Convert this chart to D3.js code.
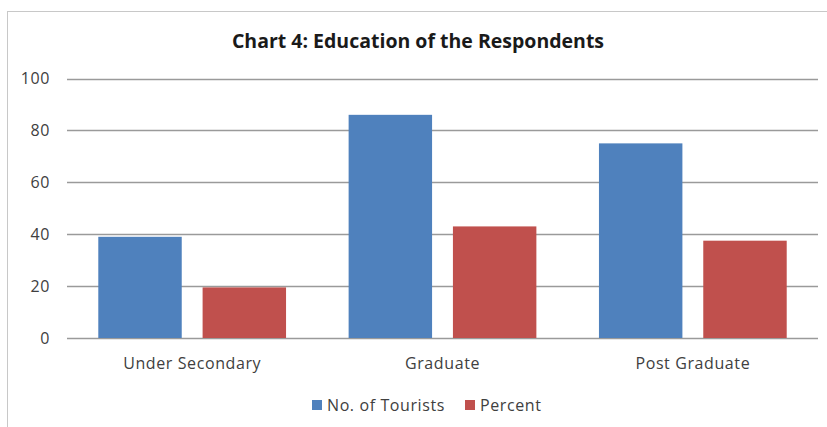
<!DOCTYPE html>
<html>
<head>
<meta charset="utf-8">
<script src="https://cdn.jsdelivr.net/npm/d3@7"></script>
<style>
  html, body { margin: 0; padding: 0; background: #fff; }
  svg { display: block; }
  text { font-family: "Open Sans", "Noto Sans", sans-serif; fill: #404040; }
</style>
</head>
<body>
<svg id="chart" width="827" height="427"></svg>
<script>
// Education level of the surveyed tourists
const categories = ["Under Secondary", "Graduate", "Post Graduate"];
const seriesNames = ["No. of Tourists", "Percent"];
const tourists = [39, 86, 75];
const percent = [19.5, 43, 37.5];
const yTicks = [0, 20, 40, 60, 80, 100];
const title = "Chart 4: Education of the Respondents";

const colors = ["#4f81bd", "#c0504d"];
const svg = d3.select("#chart");

// outer chart frame
svg.append("rect")
  .attr("x", 7.5).attr("y", 11.5)
  .attr("width", 840).attr("height", 440)
  .attr("fill", "#fff").attr("stroke", "#c8c8c8");

const plot = { left: 67, right: 818, top: 78.5, bottom: 338 };

const x = d3.scaleBand().domain(categories)
  .range([plot.left, plot.right]).paddingInner(0).paddingOuter(0);
const xs = d3.scaleBand().domain(seriesNames)
  .range([0, x.bandwidth()]).paddingInner(0.2).paddingOuter(0.3);
const y = d3.scaleLinear().domain([0, 100]).range([plot.bottom, plot.top]);

// horizontal gridlines
svg.append("g").selectAll("line").data(yTicks).join("line")
  .attr("x1", plot.left).attr("x2", plot.right)
  .attr("y1", d => Math.round(y(d)) + 0.5).attr("y2", d => Math.round(y(d)) + 0.5)
  .attr("stroke", "#9a9a9a").attr("stroke-width", 1.3);

// y axis labels
const yAxis = d3.axisLeft(y).tickValues(yTicks).tickSize(0).tickPadding(0);
const gy = svg.append("g").attr("transform", `translate(${plot.left - 17},0)`).call(yAxis);
gy.select(".domain").remove();
gy.selectAll("text").attr("font-size", 16).attr("fill", "#404040")
  .attr("letter-spacing", 0.6)
  .style("font-family", '"Open Sans", sans-serif');

// bars
const rows = categories.map((c, i) => ({ cat: c, vals: [tourists[i], percent[i]] }));
const groups = svg.append("g").selectAll("g").data(rows).join("g")
  .attr("transform", d => `translate(${x(d.cat)},0)`);
groups.selectAll("rect").data(d => d.vals.map((v, j) => ({ s: seriesNames[j], v, j })))
  .join("rect")
  .attr("x", d => xs(d.s))
  .attr("width", xs.bandwidth())
  .attr("y", d => y(d.v))
  .attr("height", d => y(0) - y(d.v))
  .attr("fill", d => colors[d.j]);

// category labels
const xAxis = d3.axisBottom(x).tickSize(0).tickPadding(0);
const gx = svg.append("g").attr("transform", `translate(0,${plot.bottom + 20})`).call(xAxis);
gx.select(".domain").remove();
gx.selectAll("text").attr("font-size", 16).attr("dy", "0.71em").attr("fill", "#404040")
  .attr("letter-spacing", 0.6)
  .style("font-family", '"Open Sans", sans-serif');

// title
svg.append("text")
  .attr("x", 418).attr("y", 48)
  .attr("text-anchor", "middle")
  .attr("font-size", 19.5).attr("font-weight", "bold")
  .style("fill", "#1a1a1a")
  .text(title);

// legend
const legend = svg.append("g").attr("transform", "translate(312,400)");
const legendX = [0, 153];
seriesNames.forEach((name, i) => {
  const g = legend.append("g").attr("transform", `translate(${legendX[i]},0)`);
  g.append("rect").attr("width", 10).attr("height", 10).attr("fill", colors[i]);
  g.append("text").attr("x", 15).attr("y", 5).attr("dy", "0.35em")
    .attr("letter-spacing", 0.6)
    .attr("font-size", 16).text(name);
});
</script>
</body>
</html>
